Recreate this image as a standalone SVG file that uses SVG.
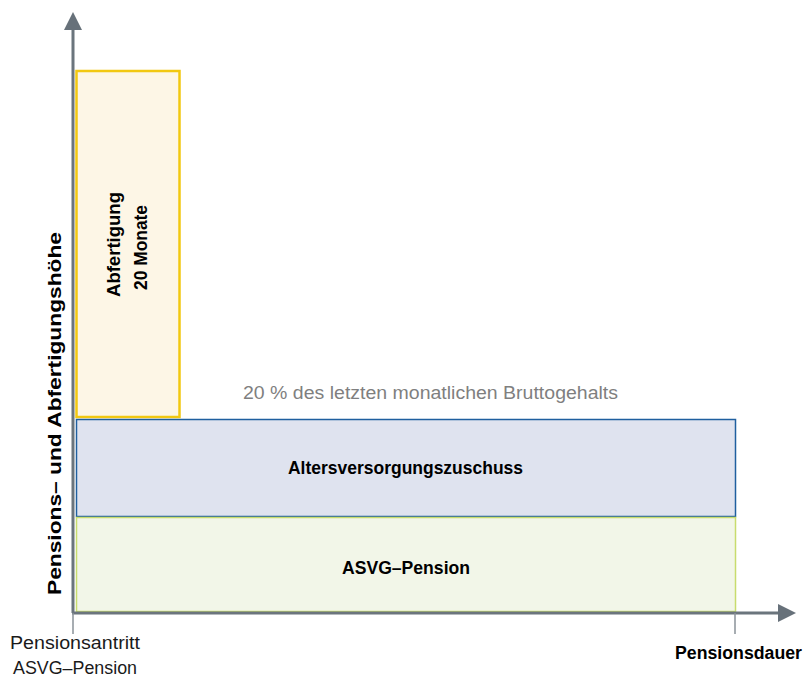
<svg xmlns="http://www.w3.org/2000/svg" width="806" height="678" viewBox="0 0 806 678">
<style>
text{font-family:"Liberation Sans",Arial,sans-serif;fill:#000;font-size:17.5px}
.b{font-weight:bold}
.ax{stroke:#6b757d;stroke-width:3;fill:none}
.tick{stroke:#8a9299;stroke-width:1.5}
</style>
<defs>
<marker id="ah" markerWidth="6" markerHeight="6" refX="0" refY="3" orient="auto" markerUnits="strokeWidth">
<path d="M0,0 L6,3 L0,6 z" fill="#67717a"/>
</marker>
</defs>
<rect width="806" height="678" fill="#fff"/>
<g id="abfertigung">
<rect x="76.5" y="71" width="103" height="346" fill="#fdf6e6" stroke="#f2c811" stroke-width="2.5"/>
<text class="b" transform="translate(120,244.5) rotate(-90)" text-anchor="middle" textLength="105" lengthAdjust="spacingAndGlyphs">Abfertigung</text>
<text class="b" transform="translate(147,247.5) rotate(-90)" text-anchor="middle" textLength="85" lengthAdjust="spacingAndGlyphs">20 Monate</text>
</g>
<g id="zuschuss">
<rect x="76.5" y="419.5" width="659" height="97" fill="#dfe3ef" stroke="#1f5f9f" stroke-width="1.5"/>
<text class="b" x="405.5" y="474" text-anchor="middle" textLength="235" lengthAdjust="spacingAndGlyphs">Altersversorgungszuschuss</text>
</g>
<g id="asvg">
<rect x="76.5" y="517.5" width="659" height="94" fill="#f2f6e8" stroke="#c8dc6e" stroke-width="1.5"/>
<text class="b" x="406" y="574" text-anchor="middle" textLength="128" lengthAdjust="spacingAndGlyphs">ASVG–Pension</text>
</g>
<text x="430.5" y="399" text-anchor="middle" style="fill:#7f7f7f" textLength="375" lengthAdjust="spacingAndGlyphs">20 % des letzten monatlichen Bruttogehalts</text>
<g id="connectors">
<line class="ax" x1="73" y1="613" x2="73" y2="30" marker-end="url(#ah)"/>
<line class="ax" x1="72" y1="613" x2="778" y2="613" marker-end="url(#ah)"/>
<line class="tick" x1="73" y1="613" x2="73" y2="634"/>
<line class="tick" x1="735" y1="613" x2="735" y2="634"/>
</g>
<text class="b" transform="translate(61,413.5) rotate(-90)" text-anchor="middle" textLength="363" lengthAdjust="spacingAndGlyphs">Pensions– und Abfertigungshöhe</text>
<text x="75" y="649" text-anchor="middle" style="fill:#1a1a1a" textLength="130" lengthAdjust="spacingAndGlyphs">Pensionsantritt</text>
<text x="75" y="674" text-anchor="middle" style="fill:#1a1a1a" textLength="124" lengthAdjust="spacingAndGlyphs">ASVG–Pension</text>
<text class="b" x="738.5" y="659" text-anchor="middle" textLength="127" lengthAdjust="spacingAndGlyphs">Pensionsdauer</text>
</svg>
